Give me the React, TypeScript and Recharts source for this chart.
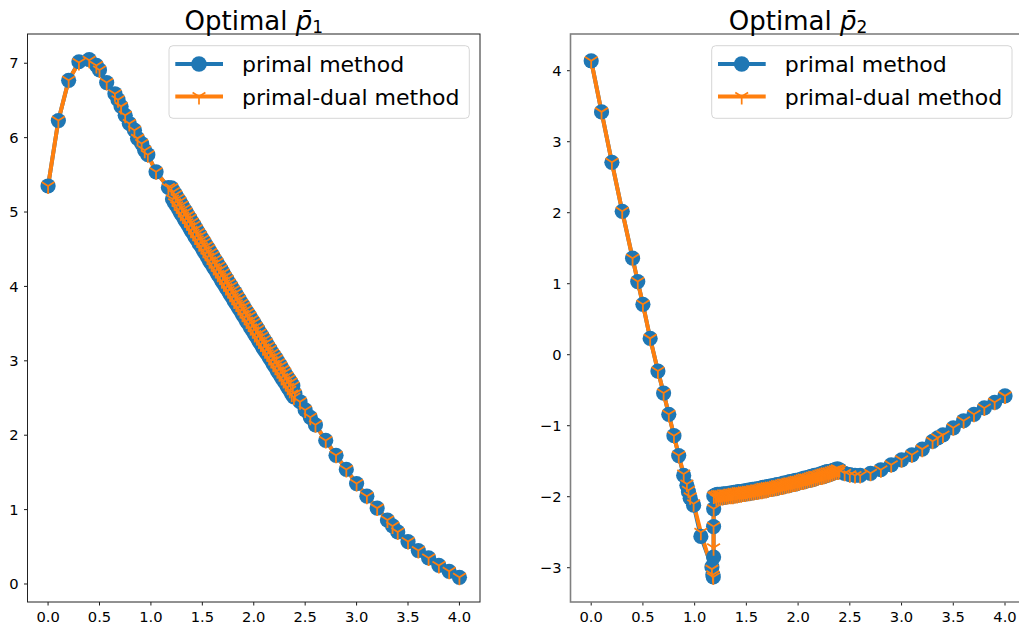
import React from 'react';
import { LineChart, Line, XAxis, YAxis } from 'recharts';

const BLUE = '#1f77b4';
const ORANGE = '#ff7f0e';
const FONT = '"DejaVu Sans", Verdana, sans-serif';

const seriesNames = ['primal method', 'primal-dual method'];
const xTicks = [0, 0.5, 1, 1.5, 2, 2.5, 3, 3.5, 4];
const leftYTicks = [0, 1, 2, 3, 4, 5, 6, 7];
const rightYTicks = [-3, -2, -1, 0, 1, 2, 3, 4];

// left panel (p1), head part
const headLeftX = [0, 0.1, 0.2, 0.3, 0.4, 0.47, 0.5, 0.57, 0.65, 0.68, 0.71, 0.75, 0.79, 0.84, 0.87, 0.91, 0.94, 0.97, 1.05, 1.17];
const headLeftPrimal = [5.35, 6.23, 6.77, 7.02, 7.05, 6.97, 6.91, 6.74, 6.59, 6.51, 6.42, 6.3, 6.19, 6.1, 5.99, 5.92, 5.83, 5.77, 5.54, 5.33];
const headLeftPrimalDual = [5.35, 6.23, 6.77, 7.01, 7.04, 6.97, 6.91, 6.74, 6.59, 6.51, 6.42, 6.3, 6.19, 6.1, 5.99, 5.92, 5.83, 5.77, 5.54, 5.33];

// dense oscillating band (shared x)
const bandX = [
  1.2, 1.21, 1.22, 1.23, 1.24, 1.25, 1.26, 1.27, 1.28, 1.29,
  1.3, 1.31, 1.32, 1.33, 1.34, 1.35, 1.36, 1.37, 1.38, 1.39,
  1.4, 1.41, 1.42, 1.43, 1.44, 1.45, 1.46, 1.47, 1.48, 1.49,
  1.5, 1.51, 1.52, 1.53, 1.54, 1.55, 1.56, 1.57, 1.58, 1.59,
  1.6, 1.61, 1.62, 1.63, 1.64, 1.65, 1.66, 1.67, 1.68, 1.69,
  1.7, 1.71, 1.72, 1.73, 1.74, 1.75, 1.76, 1.77, 1.78, 1.79,
  1.8, 1.81, 1.82, 1.83, 1.84, 1.85, 1.86, 1.87, 1.88, 1.89,
  1.9, 1.91, 1.92, 1.93, 1.94, 1.95, 1.96, 1.97, 1.98, 1.99,
  2.0, 2.01, 2.02, 2.03, 2.04, 2.05, 2.06, 2.07, 2.08, 2.09,
  2.1, 2.11, 2.12, 2.13, 2.14, 2.15, 2.16, 2.17, 2.18, 2.19,
  2.2, 2.21, 2.22, 2.23, 2.24, 2.25, 2.26, 2.27, 2.28, 2.29,
  2.3, 2.31, 2.32, 2.33, 2.34, 2.35, 2.36, 2.37, 2.38, 2.39,
  2.4,
];
const bandLeftPrimal = [
  5.325, 5.175, 5.275, 5.125, 5.235, 5.085, 5.185, 5.035, 5.145, 4.985,
  5.095, 4.945, 5.045, 4.895, 5.005, 4.855, 4.955, 4.805, 4.915, 4.755,
  4.865, 4.715, 4.825, 4.665, 4.775, 4.625, 4.725, 4.575, 4.685, 4.535,
  4.635, 4.485, 4.595, 4.445, 4.545, 4.395, 4.505, 4.345, 4.455, 4.305,
  4.415, 4.255, 4.365, 4.215, 4.325, 4.165, 4.275, 4.125, 4.235, 4.075,
  4.185, 4.035, 4.135, 3.985, 4.095, 3.945, 4.045, 3.895, 4.005, 3.855,
  3.955, 3.805, 3.915, 3.765, 3.865, 3.715, 3.825, 3.675, 3.775, 3.625,
  3.735, 3.585, 3.685, 3.535, 3.645, 3.495, 3.605, 3.445, 3.555, 3.405,
  3.515, 3.355, 3.465, 3.315, 3.425, 3.265, 3.375, 3.225, 3.335, 3.175,
  3.285, 3.135, 3.245, 3.095, 3.195, 3.045, 3.155, 3.005, 3.105, 2.955,
  3.065, 2.915, 3.025, 2.865, 2.975, 2.825, 2.935, 2.775, 2.885, 2.735,
  2.845, 2.695, 2.795, 2.645, 2.755, 2.605, 2.715, 2.555, 2.665, 2.515,
  2.56,
];
const bandLeftPrimalDual = bandLeftPrimal;

// tail (shared x)
const tailX = [2.45, 2.5, 2.55, 2.6, 2.7, 2.8, 2.9, 3.0, 3.1, 3.2, 3.3, 3.35, 3.4, 3.5, 3.6, 3.7, 3.8, 3.9, 4.0];
const tailLeftPrimal = [2.45, 2.34, 2.24, 2.14, 1.93, 1.73, 1.54, 1.35, 1.18, 1.02, 0.86, 0.78, 0.7, 0.57, 0.45, 0.35, 0.25, 0.17, 0.09];
const tailLeftPrimalDual = [2.45, 2.34, 2.24, 2.14, 1.93, 1.73, 1.54, 1.35, 1.18, 1.02, 0.86, 0.78, 0.7, 0.57, 0.45, 0.35, 0.25, 0.17, 0.09];

// right panel (p2), head part
const headRightX = [0, 0.1, 0.2, 0.3, 0.4, 0.45, 0.5, 0.57, 0.645, 0.7, 0.75, 0.8, 0.846, 0.894, 0.925, 0.94, 0.957, 0.99, 1.06, 1.167, 1.176, 1.18, 1.183, 1.183, 1.184, 1.185];
const headRightPrimal = [4.14, 3.42, 2.71, 2.02, 1.36, 1.03, 0.71, 0.23, -0.23, -0.54, -0.84, -1.14, -1.42, -1.7, -1.84, -1.93, -2.02, -2.12, -2.56, -2.99, -3.1, -3.13, -2.85, -2.42, -2.17, -1.99];
const headRightPrimalDual = [4.14, 3.42, 2.71, 2.02, 1.36, 1.03, 0.71, 0.23, -0.23, -0.54, -0.84, -1.14, -1.42, -1.68, -1.82, -1.91, -2.0, -2.1, -2.5, -3.02, -3.1, -3.13, -2.72, -2.42, -2.17, -1.99];
const bandRightPrimal = [
  -1.978, -2.022, -1.968, -2.012, -1.968, -2.012, -1.968, -2.012, -1.958, -2.002,
  -1.958, -2.002, -1.958, -1.992, -1.948, -1.992, -1.948, -1.992, -1.938, -1.982,
  -1.938, -1.982, -1.928, -1.972, -1.928, -1.972, -1.928, -1.962, -1.918, -1.962,
  -1.918, -1.952, -1.908, -1.952, -1.908, -1.942, -1.898, -1.942, -1.898, -1.932,
  -1.888, -1.932, -1.888, -1.922, -1.878, -1.922, -1.868, -1.912, -1.868, -1.912,
  -1.858, -1.902, -1.858, -1.892, -1.848, -1.892, -1.848, -1.882, -1.838, -1.882,
  -1.828, -1.872, -1.828, -1.862, -1.818, -1.862, -1.808, -1.852, -1.808, -1.842,
  -1.798, -1.842, -1.788, -1.832, -1.788, -1.822, -1.778, -1.822, -1.768, -1.812,
  -1.768, -1.802, -1.758, -1.792, -1.748, -1.792, -1.738, -1.782, -1.738, -1.772,
  -1.728, -1.762, -1.718, -1.762, -1.708, -1.752, -1.698, -1.742, -1.698, -1.732,
  -1.688, -1.722, -1.678, -1.722, -1.668, -1.712, -1.658, -1.702, -1.648, -1.692,
  -1.648, -1.682, -1.638, -1.672, -1.628, -1.662, -1.618, -1.652, -1.608, -1.652,
  -1.62,
];
const bandRightPrimalDual = bandRightPrimal;
const tailRightPrimal = [-1.67, -1.69, -1.7, -1.7, -1.67, -1.62, -1.55, -1.48, -1.41, -1.33, -1.22, -1.17, -1.13, -1.03, -0.93, -0.84, -0.75, -0.67, -0.58];
const tailRightPrimalDual = [-1.67, -1.69, -1.7, -1.7, -1.67, -1.62, -1.55, -1.48, -1.41, -1.33, -1.22, -1.17, -1.13, -1.03, -0.93, -0.84, -0.75, -0.67, -0.58];

const toPoints = (xs: number[], ys: number[]) => xs.map((x, i) => ({ x, y: ys[i] }));

const leftX = [...headLeftX, ...bandX, ...tailX];
const rightX = [...headRightX, ...bandX, ...tailX];
const leftPrimalData = toPoints(leftX, [...headLeftPrimal, ...bandLeftPrimal, ...tailLeftPrimal]);
const leftPDData = toPoints(leftX, [...headLeftPrimalDual, ...bandLeftPrimalDual, ...tailLeftPrimalDual]);
const rightPrimalData = toPoints(rightX, [...headRightPrimal, ...bandRightPrimal, ...tailRightPrimal]);
const rightPDData = toPoints(rightX, [...headRightPrimalDual, ...bandRightPrimalDual, ...tailRightPrimalDual]);

const triPath = (cx: number, cy: number, r: number) =>
  `M${cx},${cy}L${cx},${cy + r}M${cx},${cy}L${cx + 0.8 * r},${cy - 0.5 * r}M${cx},${cy}L${cx - 0.8 * r},${cy - 0.5 * r}`;

const CircleDot = (props: any) => {
  const { cx, cy, index } = props;
  if (cx == null || cy == null) return <g key={`c${index}`} />;
  return <circle key={`c${index}`} cx={cx} cy={cy} r={7.6} fill={BLUE} />;
};

const TriDot = (props: any) => {
  const { cx, cy, index } = props;
  if (cx == null || cy == null) return <g key={`t${index}`} />;
  return <path key={`t${index}`} d={triPath(cx, cy, 8)} stroke={ORANGE} strokeWidth={1.8} fill="none" />;
};

const tickStyle = { fontSize: 14.7, fill: '#000', fontFamily: FONT };
const fmtX = (v: number) => v.toFixed(1);
const fmtY = (v: number) => (v < 0 ? '\u2212' + Math.abs(v) : String(v));

type PanelProps = {
  left: number;
  width: number;
  marginRight: number;
  yWidth: number;
  yDomain: [number, number];
  yTicks: number[];
  primal: { x: number; y: number }[];
  pd: { x: number; y: number }[];
};

const Panel = ({ left, width, marginRight, yWidth, yDomain, yTicks, primal, pd }: PanelProps) => (
  <div style={{ position: 'absolute', left, top: 0 }}>
    <LineChart width={width} height={630} margin={{ top: 34, right: marginRight, bottom: 0, left: 0 }}>
      <XAxis
        type="number"
        dataKey="x"
        domain={[-0.2, 4.2]}
        allowDataOverflow
        ticks={xTicks}
        interval={0}
        tickFormatter={fmtX}
        height={28}
        tickSize={3.5}
        tickMargin={6}
        axisLine={false}
        tickLine={{ stroke: '#000', strokeWidth: 0.9 }}
        tick={tickStyle}
      />
      <YAxis
        type="number"
        dataKey="y"
        domain={yDomain}
        allowDataOverflow
        ticks={yTicks}
        interval={0}
        tickFormatter={fmtY}
        width={yWidth}
        tickSize={3.5}
        tickMargin={5.5}
        axisLine={false}
        tickLine={{ stroke: '#000', strokeWidth: 0.9 }}
        tick={tickStyle}
      />
      <Line
        data={primal}
        dataKey="y"
        name={seriesNames[0]}
        type="linear"
        stroke={BLUE}
        strokeWidth={4}
        strokeLinejoin="round"
        dot={CircleDot}
        activeDot={false}
        isAnimationActive={false}
      />
      <Line
        data={pd}
        dataKey="y"
        name={seriesNames[1]}
        type="linear"
        stroke={ORANGE}
        strokeWidth={4}
        strokeLinejoin="round"
        dot={TriDot}
        activeDot={false}
        isAnimationActive={false}
      />
    </LineChart>
  </div>
);

const LegendBox = ({ x, y }: { x: number; y: number }) => (
  <g>
    <rect x={x} y={y} width={300.3} height={72.6} rx={4} ry={4} fill="#fff" fillOpacity={0.8} stroke="#d6d6d6" strokeWidth={1} />
    <line x1={x + 6.3} x2={x + 54} y1={y + 18.3} y2={y + 18.3} stroke={BLUE} strokeWidth={4} />
    <circle cx={x + 30} cy={y + 18.3} r={7.8} fill={BLUE} />
    <text x={x + 73} y={y + 26} fontSize={22} fontFamily={FONT} fill="#000">{seriesNames[0]}</text>
    <line x1={x + 6.3} x2={x + 54} y1={y + 50.8} y2={y + 50.8} stroke={ORANGE} strokeWidth={4} />
    <path d={triPath(x + 30, y + 50.8, 8)} stroke={ORANGE} strokeWidth={1.7} fill="none" />
    <text x={x + 73} y={y + 59.3} fontSize={22} fontFamily={FONT} fill="#000">{seriesNames[1]}</text>
  </g>
);

const Title = ({ cx, sub }: { cx: number; sub: string }) => (
  <text x={cx} y={30} textAnchor="middle" fontSize={26} fontFamily={FONT} fill="#000">
    {'Optimal '}
    <tspan fontStyle="italic">{'p\u0304'}</tspan>
    <tspan fontSize={17} dy={2.5}>{sub}</tspan>
  </text>
);

export default function App() {
  return (
    <div style={{ position: 'fixed', left: 0, top: 0, width: 1019, height: 630, overflow: 'hidden', background: '#fff' }}>
      <Panel
        left={0}
        width={490}
        marginRight={10}
        yWidth={27.5}
        yDomain={[-0.242, 7.393]}
        yTicks={leftYTicks}
        primal={leftPrimalData}
        pd={leftPDData}
      />
      <Panel
        left={540}
        width={500}
        marginRight={14.3}
        yWidth={30.5}
        yDomain={[-3.483, 4.517]}
        yTicks={rightYTicks}
        primal={rightPrimalData}
        pd={rightPDData}
      />
      <svg width={1019} height={630} style={{ position: 'absolute', left: 0, top: 0, pointerEvents: 'none' }}>
        <rect x={27.5} y={34} width={452.5} height={568} fill="none" stroke="#222" strokeWidth={1} />
        <rect x={570.5} y={34} width={455.2} height={568} fill="none" stroke="#808080" strokeWidth={1.6} />
        <Title cx={253.75} sub="1" />
        <Title cx={798} sub="2" />
        <LegendBox x={169} y={45.7} />
        <LegendBox x={711.7} y={45.7} />
      </svg>
    </div>
  );
}
